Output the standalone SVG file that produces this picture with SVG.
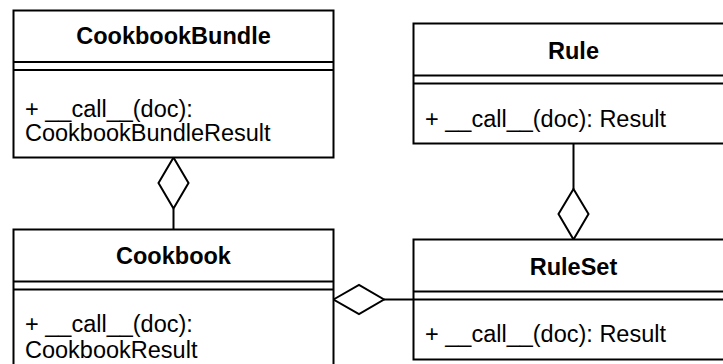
<svg xmlns="http://www.w3.org/2000/svg" width="723" height="364" viewBox="0 0 723 364">
<style>
.box{fill:#fff;stroke:#000;stroke-width:2}
.sep{stroke:#000;stroke-width:2;fill:none}
.t{font-family:"Liberation Sans",Arial,sans-serif;font-size:23.5px;fill:#000}
.b{font-weight:bold;text-anchor:middle}
.c{stroke:#000;stroke-width:2;fill:none}
.d{stroke:#000;stroke-width:2;fill:#fff}
</style>
<rect width="723" height="364" fill="#fff"/>
<g id="connectors">
<line class="c" x1="173.5" y1="208.5" x2="173.5" y2="229.5"/>
<polygon class="d" points="173.5,157.5 188.5,183 173.5,208.5 158.5,183"/>
<line class="c" x1="573.5" y1="143.5" x2="573.5" y2="189"/>
<polygon class="d" points="573.5,189 588.5,214 573.5,239.5 558.5,214"/>
<line class="c" x1="384" y1="299.5" x2="413.5" y2="299.5"/>
<polygon class="d" points="333.5,299.5 359,285 384,299.5 359,314"/>
</g>
<g id="CookbookBundle">
<rect class="box" x="13.5" y="10.5" width="320" height="147"/>
<line class="sep" x1="13.5" y1="62" x2="333.5" y2="62"/>
<line class="sep" x1="13.5" y1="70" x2="333.5" y2="70"/>
<text class="t b" x="173.5" y="44">CookbookBundle</text>
<text class="t" x="25" y="117">+ __call__(doc):</text>
<text class="t" x="25" y="141">CookbookBundleResult</text>
</g>
<g id="Rule">
<rect class="box" x="413.5" y="23.5" width="320" height="120"/>
<line class="sep" x1="413.5" y1="75.5" x2="733.5" y2="75.5"/>
<line class="sep" x1="413.5" y1="83.5" x2="733.5" y2="83.5"/>
<text class="t b" x="573.5" y="59">Rule</text>
<text class="t" x="425" y="127">+ __call__(doc): Result</text>
</g>
<g id="Cookbook">
<rect class="box" x="13.5" y="229.5" width="320" height="147"/>
<line class="sep" x1="13.5" y1="281.5" x2="333.5" y2="281.5"/>
<line class="sep" x1="13.5" y1="289.5" x2="333.5" y2="289.5"/>
<text class="t b" x="173.5" y="264">Cookbook</text>
<text class="t" x="25" y="332">+ __call__(doc):</text>
<text class="t" x="25" y="358">CookbookResult</text>
</g>
<g id="RuleSet">
<rect class="box" x="413.5" y="239.5" width="320" height="120"/>
<line class="sep" x1="413.5" y1="291.5" x2="733.5" y2="291.5"/>
<line class="sep" x1="413.5" y1="299.5" x2="733.5" y2="299.5"/>
<text class="t b" x="573.5" y="275">RuleSet</text>
<text class="t" x="425" y="342">+ __call__(doc): Result</text>
</g>
</svg>
